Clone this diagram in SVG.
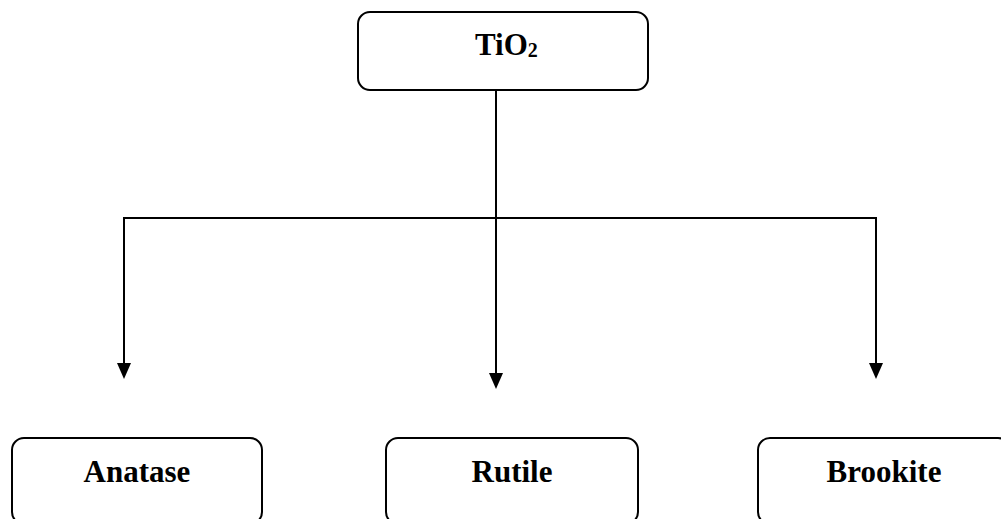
<svg xmlns="http://www.w3.org/2000/svg" width="1001" height="519" viewBox="0 0 1001 519">
<style>
.box{fill:#fff;stroke:#000;stroke-width:2}
.lbl{font-family:"Liberation Serif","Times New Roman",serif;font-weight:bold;font-size:31px;fill:#000}
.conn{fill:none;stroke:#000;stroke-width:2}
</style>
<defs>
<marker id="ah" markerUnits="userSpaceOnUse" markerWidth="16" markerHeight="14" refX="8" refY="7" orient="auto">
<path d="M0,0 L16,7 L0,14 z" fill="#000"/>
</marker>
</defs>
<rect width="1001" height="519" fill="#fff"/>
<g id="connectors">
<line class="conn" x1="496" y1="90" x2="496" y2="381" marker-end="url(#ah)"/>
<polyline class="conn" points="124,371 124,218 876,218 876,371"/>
<line class="conn" x1="124" y1="300" x2="124" y2="371" marker-end="url(#ah)"/>
<line class="conn" x1="876" y1="300" x2="876" y2="371" marker-end="url(#ah)"/>
</g>
<g id="tio2">
<rect class="box" x="358" y="12" width="290" height="78" rx="12"/>
<text class="lbl" x="475" y="55">TiO<tspan font-size="20px" dy="2">2</tspan></text>
</g>
<g id="anatase">
<rect class="box" x="12" y="438" width="250" height="86" rx="12"/>
<text class="lbl" x="137" y="482" text-anchor="middle">Anatase</text>
</g>
<g id="rutile">
<rect class="box" x="386" y="438" width="252" height="86" rx="12"/>
<text class="lbl" x="512" y="482" text-anchor="middle">Rutile</text>
</g>
<g id="brookite">
<rect class="box" x="758" y="438" width="252" height="86" rx="12"/>
<text class="lbl" x="884" y="482" text-anchor="middle">Brookite</text>
</g>
</svg>
